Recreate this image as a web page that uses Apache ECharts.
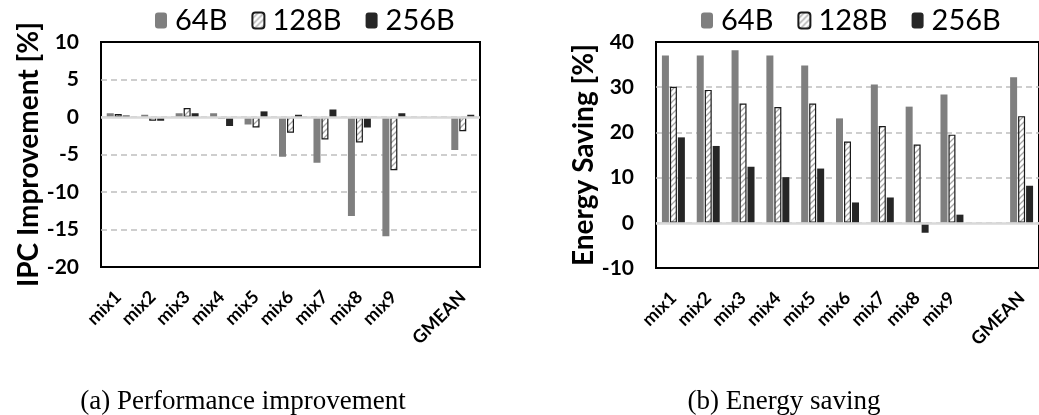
<!DOCTYPE html>
<html>
<head>
<meta charset="utf-8">
<script src="https://cdn.jsdelivr.net/npm/echarts@6/dist/echarts.min.js"></script>
<style>
  html, body { margin: 0; padding: 0; background: #fff; }
  #chart { width: 1039px; height: 415px; }
</style>
</head>
<body>
<div id="chart"></div>
<script>
// categories (slot 10 is an empty spacer before GMEAN)
const categories = ['mix1', 'mix2', 'mix3', 'mix4', 'mix5', 'mix6', 'mix7', 'mix8', 'mix9', '', 'GMEAN'];
const seriesNames = ['64B', '128B', '256B'];

// (a) IPC improvement [%]
const ipc64 = [0.5, 0.3, 0.5, 0.5, -1.0, -5.3, -6.1, -13.2, -15.9, null, -4.4];
const ipc128 = [0.4, -0.5, 1.2, -0.2, -1.4, -2.1, -3.0, -3.4, -7.1, null, -1.9];
const ipc256 = [0.2, -0.5, 0.5, -1.2, 0.75, 0.3, 1.0, -1.4, 0.5, null, 0.3];

// (b) energy saving [%]
const es64 = [37.0, 37.0, 38.2, 37.0, 34.8, 23.1, 30.6, 25.7, 28.4, null, 32.2];
const es128 = [30.1, 29.4, 26.4, 25.6, 26.4, 18.0, 21.4, 17.3, 19.5, null, 23.6];
const es256 = [18.9, 17.0, 12.4, 10.1, 12.0, 4.5, 5.6, -2.2, 1.8, null, 8.2];

// axis ranges
const ipcAxis = { min: -20, max: 10, interval: 5 };
const esAxis = { min: -10, max: 40, interval: 10 };

const captions = ['(a) Performance improvement', '(b) Energy saving'];

const FONT = 'Lato, "Open Sans", sans-serif';

// hatch fill for the 128B bars
function hatchPattern() {
  const c = document.createElement('canvas');
  c.width = 6;
  c.height = 6;
  const ctx = c.getContext('2d');
  ctx.fillStyle = '#fff';
  ctx.fillRect(0, 0, 6, 6);
  ctx.strokeStyle = '#a6a6a6';
  ctx.lineWidth = 1.3;
  ctx.beginPath();
  ctx.moveTo(-1, 7); ctx.lineTo(7, -1);
  ctx.moveTo(-4, 4); ctx.lineTo(4, -4);
  ctx.moveTo(2, 10); ctx.lineTo(10, 2);
  ctx.stroke();
  return c;
}

const styles = [
  { color: '#7f7f7f' },
  { color: { image: hatchPattern(), repeat: 'repeat' }, borderColor: '#1a1a1a', borderWidth: 1.2 },
  { color: '#262626' },
];

const grids = [
  { left: 101, top: 42, width: 379, height: 225 },
  { left: 656, top: 42, width: 388, height: 226 },
];

function makeXAxis(idx) {
  return {
    type: 'category',
    gridIndex: idx,
    data: categories,
    axisLine: { show: false },
    axisTick: { show: false },
    axisLabel: {
      rotate: 45,
      margin: 27,
      interval: 0,
      fontFamily: FONT,
      fontWeight: 'bold',
      fontSize: 18,
      color: '#000',
      padding: [0, 0, 0, 0],
    },
  };
}

function makeYAxis(idx, range, name, gap) {
  return {
    type: 'value',
    gridIndex: idx,
    min: range.min,
    max: range.max,
    interval: range.interval,
    name,
    nameLocation: 'middle',
    nameRotate: 90,
    nameGap: gap,
    nameTextStyle: { fontFamily: FONT, fontWeight: 'bold', fontSize: 28, color: '#000' },
    axisLine: { show: false },
    axisTick: { show: false },
    axisLabel: { fontFamily: FONT, fontWeight: 'bold', fontSize: 21, color: '#000', margin: 22 },
    splitLine: {
      showMinLine: false,
      showMaxLine: false,
      lineStyle: { color: '#bfbfbf', type: [6, 4], width: 1.5 },
    },
  };
}

function makeSeries(idx, values) {
  return values.map((data, k) => {
    const s = {
      name: seriesNames[k],
      type: 'bar',
      xAxisIndex: idx,
      yAxisIndex: idx,
      data,
      barWidth: 7,
      barGap: '14%',
      itemStyle: styles[k],
      emphasis: { disabled: true },
    };
    if (k === 0) {
      // light grey zero line drawn across the plot
      s.markLine = {
        silent: true,
        symbol: 'none',
        label: { show: false },
        lineStyle: { color: '#d9d9d9', width: 2.5, type: 'solid' },
        data: [{ yAxis: 0 }],
      };
    }
    return s;
  });
}

function makeLegend(left) {
  return {
    left,
    top: 1,
    itemWidth: 12,
    itemHeight: 16,
    itemGap: 24,
    data: seriesNames,
    selectedMode: false,
    textStyle: { fontFamily: FONT, fontSize: 29, color: '#000', padding: [0, 0, 0, 3] },
  };
}

const chart = echarts.init(document.getElementById('chart'), null, { renderer: 'canvas' });

const captionStyle = { fontFamily: '"Liberation Serif", serif', fontWeight: 'normal', fontSize: 27, color: '#000' };

const option = {
  animation: false,
  backgroundColor: '#fff',
  title: [
    { text: captions[0], left: 238, top: 383, textAlign: 'center', textStyle: captionStyle },
    { text: captions[1], left: 779, top: 383, textAlign: 'center', textStyle: captionStyle },
  ],
  legend: [makeLegend(150), makeLegend(696)],
  grid: grids.map((g) => ({ ...g, show: true, borderColor: '#000', borderWidth: 2, backgroundColor: 'transparent' })),
  xAxis: [makeXAxis(0), makeXAxis(1)],
  yAxis: [
    makeYAxis(0, ipcAxis, 'IPC Improvement [%]', 58),
    makeYAxis(1, esAxis, 'Energy Saving [%]', 54),
  ],
  series: [
    ...makeSeries(0, [ipc64, ipc128, ipc256]),
    ...makeSeries(1, [es64, es128, es256]),
  ],
};

chart.setOption(option);
</script>
</body>
</html>
